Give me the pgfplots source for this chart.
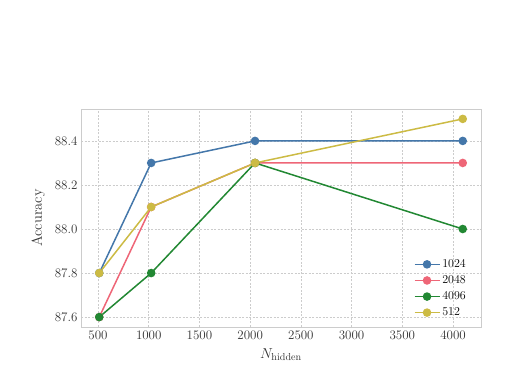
\documentclass[border=0pt]{standalone}
\usepackage{fontspec}
\usepackage{pgfplots}
\pgfplotsset{compat=1.18}
\usepackage{amsmath}
\definecolor{tolblue}{HTML}{4477AA}
\definecolor{tolred}{HTML}{EE6677}
\definecolor{tolgreen}{HTML}{228833}
\definecolor{tolyellow}{HTML}{CCBB44}
\definecolor{gridgray}{HTML}{CCCCCC}
\definecolor{ticktext}{HTML}{333333}
\begin{document}
\begin{tikzpicture}[x=1pt,y=1pt]
\path[use as bounding box] (0,0) rectangle (522,371);
\begin{axis}[
  at={(81pt,44pt)}, anchor=south west,
  scale only axis, width=400pt, height=218pt,
  xmin=332, xmax=4276, ymin=87.555, ymax=88.545,
  xtick={500,1000,1500,2000,2500,3000,3500,4000},
  ytick={87.6,87.8,88.0,88.2,88.4},
  /pgf/number format/assume math mode=true,
  yticklabel style={/pgf/number format/.cd,fixed,fixed zerofill,precision=1,assume math mode=true},
  xticklabel style={/pgf/number format/.cd,1000 sep={},assume math mode=true},
  tick style={draw=none},
  axis line style={gridgray, line width=0.9pt},
  grid=major,
  major grid style={color=gridgray, dash pattern=on 2pt off 1.5pt, line width=0.6pt},
  ticklabel style={text=ticktext, font=\fontsize{13}{15}\selectfont},
  xlabel={$N_{\text{hidden}}$},
  ylabel={Accuracy},
  label style={text=ticktext, font=\fontsize{14.5}{17}\selectfont},
  xlabel style={yshift=-2pt},
  ylabel style={yshift=3pt},
  every axis plot/.append style={line width=1.5pt, mark=*, mark size=3.5pt},
  legend style={draw=none, fill=none, font=\fontsize{12}{14}\selectfont, row sep=2.5pt, at={(0.975,0.025)}, anchor=south east},
  legend cell align=left,
  legend image code/.code={\draw[mark repeat=2,mark phase=2] plot coordinates {(0pt,0pt) (12.5pt,0pt) (25pt,0pt)};},
]
\addplot[color=tolblue] coordinates {(512,87.8) (1024,88.3) (2048,88.4) (4096,88.4)};
\addlegendentry{1024}
\addplot[color=tolred] coordinates {(512,87.6) (1024,88.1) (2048,88.3) (4096,88.3)};
\addlegendentry{2048}
\addplot[color=tolgreen] coordinates {(512,87.6) (1024,87.8) (2048,88.3) (4096,88.0)};
\addlegendentry{4096}
\addplot[color=tolyellow] coordinates {(512,87.8) (1024,88.1) (2048,88.3) (4096,88.5)};
\addlegendentry{512}
\end{axis}
\end{tikzpicture}
\end{document}
